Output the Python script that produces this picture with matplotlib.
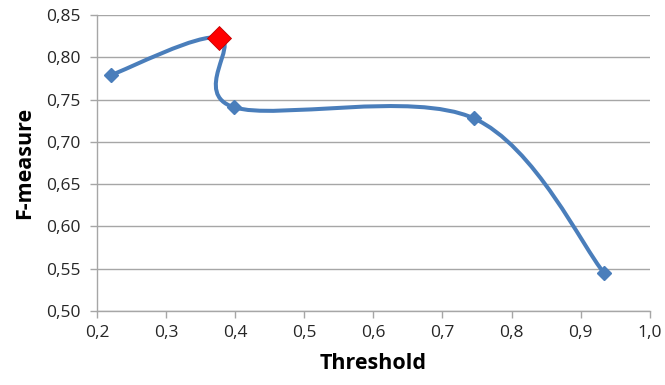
import numpy as np
import matplotlib
matplotlib.use("Agg")
import matplotlib.pyplot as plt
from matplotlib.path import Path
from matplotlib.patches import PathPatch
from matplotlib.ticker import FuncFormatter

# data
threshold = [0.22, 0.377, 0.398, 0.745, 0.934]
fmeasure = [0.779, 0.823, 0.741, 0.728, 0.545]
best_idx = 1

blue = "#4A7EBB"

fig = plt.figure(figsize=(6.65, 3.85), dpi=100)
ax = fig.add_axes([0.146, 0.192, 0.831, 0.769])

# smoothed line like Excel (Catmull-Rom as cubic bezier)
pts = np.column_stack([threshold, fmeasure])
n = len(pts)
verts = [pts[0]]
codes = [Path.MOVETO]
for i in range(n - 1):
    p0 = pts[max(i - 1, 0)]
    p1 = pts[i]
    p2 = pts[i + 1]
    p3 = pts[min(i + 2, n - 1)]
    c1 = p1 + (p2 - p0) / 6
    c2 = p2 - (p3 - p1) / 6
    verts += [c1, c2, p2]
    codes += [Path.CURVE4] * 3
ax.add_patch(PathPatch(Path(verts, codes), fill=False, edgecolor=blue,
                       lw=2.9, capstyle="round", joinstyle="round", zorder=3))

others = [i for i in range(n) if i != best_idx]
ax.plot([threshold[i] for i in others], [fmeasure[i] for i in others],
        ls="none", marker="D", ms=7.5, color=blue, zorder=4)
ax.plot([threshold[best_idx]], [fmeasure[best_idx]], ls="none", marker="D",
        ms=12, mfc="red", mec="#C00000", mew=0.6, zorder=5)

ax.set_xlim(0.2, 1.0)
ax.set_ylim(0.5, 0.85)
ax.set_xticks(np.arange(0.2, 1.01, 0.1))
ax.set_yticks(np.arange(0.5, 0.851, 0.05))
ax.xaxis.set_major_formatter(FuncFormatter(lambda v, p: f"{v:.1f}".replace(".", ",")))
ax.yaxis.set_major_formatter(FuncFormatter(lambda v, p: f"{v:.2f}".replace(".", ",")))

ax.grid(axis="y", color="#A6A6A6", lw=1.0)
ax.set_axisbelow(True)
for s in ["top", "right"]:
    ax.spines[s].set_visible(False)
for s in ["left", "bottom"]:
    ax.spines[s].set_color("#A6A6A6")
    ax.spines[s].set_linewidth(1.0)
ax.tick_params(axis="both", colors="#A6A6A6", length=5, width=1.0,
               labelcolor="#262626", labelsize=12.5)
ax.tick_params(axis="y", pad=7)
ax.tick_params(axis="x", pad=5)

font = "Open Sans"
for lab in ax.get_xticklabels() + ax.get_yticklabels():
    lab.set_family(font)

ax.set_xlabel("Threshold", fontsize=15.5, fontweight="bold", family=font,
              labelpad=9, color="black")
ax.set_ylabel("F-measure", fontsize=15.5, fontweight="bold", family=font,
              labelpad=8, color="black")

fig.savefig("out.png", dpi=100)
